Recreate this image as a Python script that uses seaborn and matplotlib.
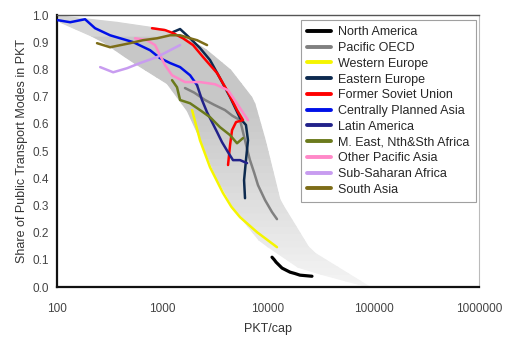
import numpy as np
import pandas as pd
import matplotlib
matplotlib.use("Agg")
import matplotlib.pyplot as plt
import seaborn as sns

# trajectories: PKT/cap and public transport share
north_america_x = [10914, 11500, 11912, 13583, 16180, 18000, 20090, 26120]
north_america_y = [0.110, 0.100, 0.092, 0.070, 0.055, 0.050, 0.044, 0.040]

pacific_oecd_x = [1633, 2000, 2529, 3100, 3908, 4600, 5433, 6053, 6400, 6745, 7400, 8035, 9376, 10914, 12162]
pacific_oecd_y = [0.732, 0.715, 0.688, 0.670, 0.651, 0.630, 0.614, 0.540, 0.500, 0.467, 0.420, 0.375, 0.320, 0.276, 0.250]

western_europe_x = [1905, 2265, 2818, 3741, 4500, 5433, 7870, 12162]
western_europe_y = [0.651, 0.540, 0.441, 0.346, 0.295, 0.257, 0.202, 0.147]

eastern_europe_x = [1259, 1466, 1824, 2265, 2818, 3508, 4365, 5433, 6180, 6457, 6180, 5929, 6053]
eastern_europe_y = [0.938, 0.949, 0.915, 0.879, 0.835, 0.768, 0.699, 0.621, 0.596, 0.540, 0.467, 0.393, 0.327]

fsu_x = [794, 1057, 1259, 1563, 1945, 2421, 3289, 4083, 5082, 5794, 4977, 4560, 4365, 4178]
fsu_y = [0.952, 0.945, 0.934, 0.915, 0.890, 0.846, 0.787, 0.724, 0.651, 0.614, 0.607, 0.577, 0.522, 0.449]

cpa_x = [100, 133, 184, 229, 318, 525, 762, 946, 1178, 1466, 1824, 2123]
cpa_y = [0.982, 0.974, 0.985, 0.952, 0.926, 0.901, 0.871, 0.842, 0.824, 0.809, 0.779, 0.743]

latin_america_x = [2123, 2366, 2642, 2944, 3289, 3664, 4178, 4656, 5433, 6324]
latin_america_y = [0.743, 0.688, 0.643, 0.607, 0.570, 0.533, 0.496, 0.467, 0.467, 0.456]

mena_x = [1230, 1371, 1466, 1824, 2265, 2818, 3508, 4365, 5082, 5794]
mena_y = [0.761, 0.735, 0.688, 0.676, 0.651, 0.625, 0.588, 0.559, 0.529, 0.548]

other_pacific_asia_x = [548, 713, 849, 946, 1057, 1230, 1633, 2265, 3148, 4178, 5200, 6457]
other_pacific_asia_y = [0.915, 0.908, 0.890, 0.853, 0.816, 0.779, 0.754, 0.754, 0.746, 0.724, 0.669, 0.614]

ssa_x = [256, 340, 461, 612, 887, 1178, 1466]
ssa_y = [0.809, 0.790, 0.805, 0.824, 0.846, 0.871, 0.890]

south_asia_x = [239, 318, 492, 653, 887, 1178, 1466, 1824, 2123, 2642]
south_asia_y = [0.897, 0.882, 0.897, 0.908, 0.915, 0.926, 0.926, 0.915, 0.908, 0.890]

# shaded envelope
band_upper_x = [100, 398, 1000, 2291, 4365, 7244, 9333, 12882, 25119, 93325]
band_upper_y = [0.993, 0.974, 0.952, 0.89, 0.80, 0.69, 0.54, 0.32, 0.136, 0.0]
band_lower_x = [100, 257, 490, 1096, 1698, 2291, 3162, 4898, 8318, 19953, 93325]
band_lower_y = [0.98, 0.91, 0.835, 0.75, 0.65, 0.54, 0.41, 0.28, 0.17, 0.07, 0.0]

regions = {
    "North America": (north_america_x, north_america_y, "#000000"),
    "Pacific OECD": (pacific_oecd_x, pacific_oecd_y, "#808080"),
    "Western Europe": (western_europe_x, western_europe_y, "#f5f500"),
    "Eastern Europe": (eastern_europe_x, eastern_europe_y, "#0d2a4f"),
    "Former Soviet Union": (fsu_x, fsu_y, "#ff0000"),
    "Centrally Planned Asia": (cpa_x, cpa_y, "#0010e8"),
    "Latin America": (latin_america_x, latin_america_y, "#22228a"),
    "M. East, Nth&Sth Africa": (mena_x, mena_y, "#6b7a1c"),
    "Other Pacific Asia": (other_pacific_asia_x, other_pacific_asia_y, "#ff88c8"),
    "Sub-Saharan Africa": (ssa_x, ssa_y, "#c89cf0"),
    "South Asia": (south_asia_x, south_asia_y, "#7d6d18"),
}

sns.set_style("white")
plt.rcParams["font.family"] = ["Liberation Sans", "DejaVu Sans"]

fig, ax = plt.subplots(figsize=(5.1, 3.37), dpi=100)
fig.subplots_adjust(left=0.112, right=0.939, bottom=0.148, top=0.955)
ax.set_xscale("log")

# gradient envelope, darker at the top, fading toward the bottom right
ly_up = np.log10(band_upper_x)
ly_lo = np.log10(band_lower_x)
edges = np.linspace(0.0, 1.0, 41)
for y0, y1 in zip(edges[:-1], edges[1:]):
    ys = np.array([y0, y1])
    xu = 10 ** np.interp(ys, band_upper_y[::-1], ly_up[::-1])
    xl = 10 ** np.interp(ys, band_lower_y[::-1], ly_lo[::-1])
    g = 0.96 - 0.18 * min(1.0, (y0 + y1) / 2 / 0.65)
    if y0 > 0.9:
        g = 0.83
    ax.fill_betweenx(ys, xl, xu, facecolor=(g, g, g), edgecolor=(g, g, g),
                     lw=0.8, zorder=1)

for name, (xs, ys, c) in regions.items():
    sns.lineplot(x=xs, y=ys, sort=False, estimator=None, color=c,
                 linewidth=2.3 if name == "North America" else 1.8,
                 ax=ax, zorder=3, label=name)

ax.set_xlim(100, 1000000)
ax.set_ylim(0, 1.0)
ax.set_xticks([100, 1000, 10000, 100000, 1000000])
ax.set_xticklabels(["100", "1000", "10000", "100000", "1000000"])
ax.xaxis.set_minor_locator(matplotlib.ticker.NullLocator())
ax.set_yticks(np.arange(0, 1.01, 0.1))
ax.set_yticklabels([f"{v:.1f}" for v in np.arange(0, 1.01, 0.1)])
ax.tick_params(axis="x", direction="inout", length=7, width=1.2, colors="#222",
               labelcolor="#444", labelsize=8.5, pad=8)
ax.tick_params(axis="y", direction="out", length=4, width=1.2, colors="#222",
               labelcolor="#444", labelsize=8.5, pad=2)

for s in ["left", "bottom"]:
    ax.spines[s].set_color("#111")
    ax.spines[s].set_linewidth(1.6)
ax.spines["top"].set_color("#555")
ax.spines["top"].set_linewidth(1.0)
ax.spines["right"].set_color("#bbb")
ax.spines["right"].set_linewidth(0.8)

ax.set_xlabel("PKT/cap", fontsize=9, color="#333", labelpad=6)
ax.set_ylabel("Share of Public Transport Modes in PKT", fontsize=9, color="#333", labelpad=3)

leg = ax.legend(loc="upper right", bbox_to_anchor=(0.993, 0.982), borderaxespad=0,
                fontsize=9, frameon=True, fancybox=False, edgecolor="#888",
                handlelength=1.9, handletextpad=0.6, labelspacing=0.3,
                borderpad=0.5)
leg.get_frame().set_linewidth(0.8)
for h in leg.get_lines():
    h.set_linewidth(2.8)
leg.set_zorder(5)

fig.savefig("out.png", dpi=100)
